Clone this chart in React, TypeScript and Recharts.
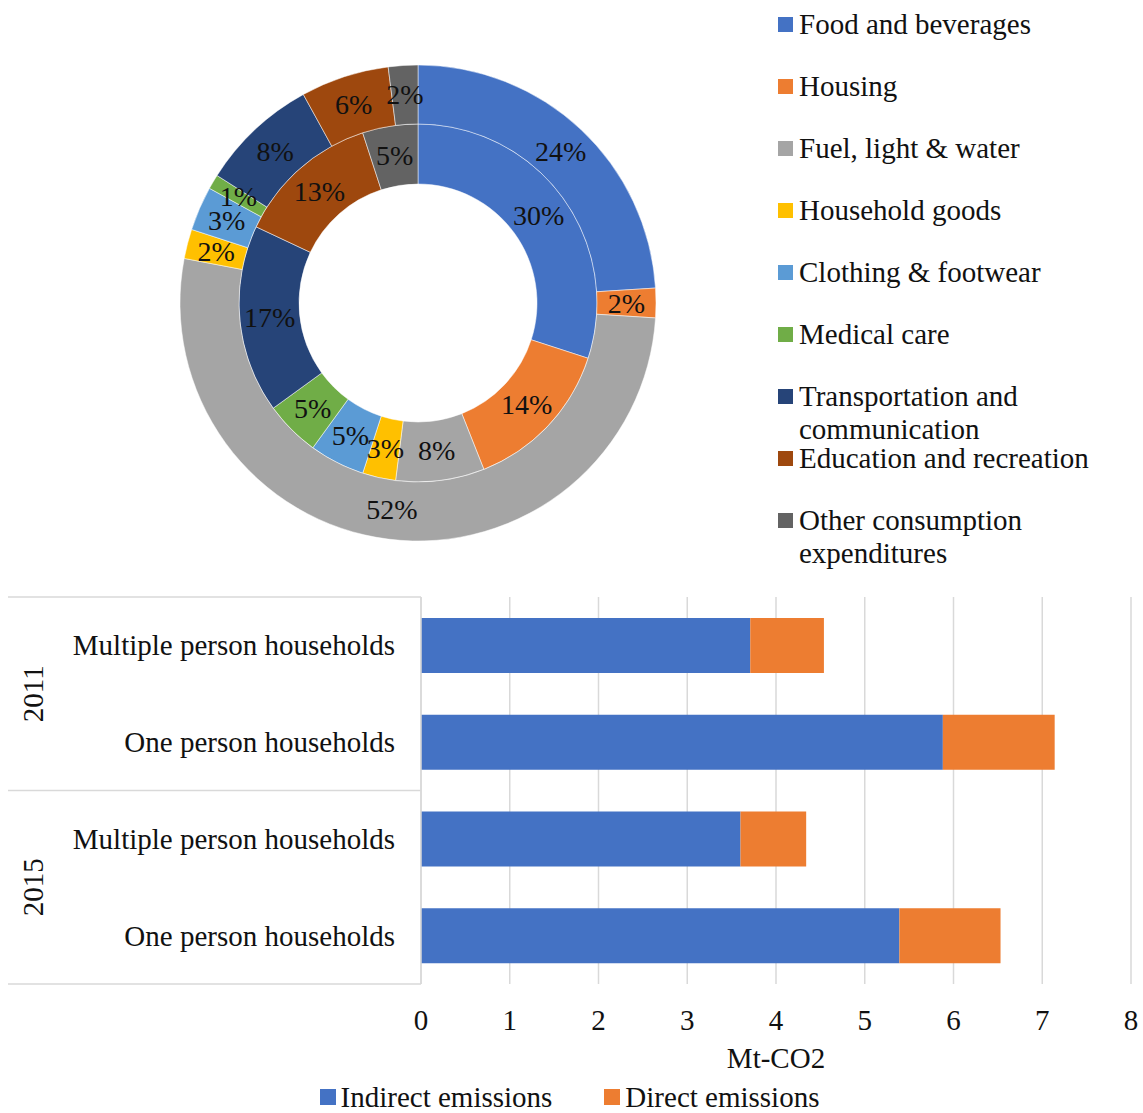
import React from 'react';
import {
  PieChart,
  Pie,
  Cell,
  Legend,
  BarChart,
  Bar,
  XAxis,
  YAxis,
  CartesianGrid,
} from 'recharts';

// ---- Consumption categories (shared by both rings) ----
const categories = [
  'Food and beverages',
  'Housing',
  'Fuel, light & water',
  'Household goods',
  'Clothing & footwear',
  'Medical care',
  'Transportation and communication',
  'Education and recreation',
  'Other consumption expenditures',
];
const categoryColors = [
  '#4472C4',
  '#ED7D31',
  '#A5A5A5',
  '#FFC000',
  '#5B9BD5',
  '#70AD47',
  '#264478',
  '#9E480E',
  '#636363',
];
// Shares in percent
const innerRingShares = [30, 14, 8, 3, 5, 5, 17, 13, 5];
const outerRingShares = [24, 2, 52, 2, 3, 1, 8, 6, 2];

// ---- Household emissions (Mt-CO2) ----
const households = [
  'Multiple person households',
  'One person households',
  'Multiple person households',
  'One person households',
];
const years = ['2011', '2011', '2015', '2015'];
const indirectEmissions = [3.71, 5.88, 3.6, 5.39];
const directEmissions = [0.83, 1.26, 0.74, 1.14];
const emissionTicks = [0, 1, 2, 3, 4, 5, 6, 7, 8];
const emissionSeries = [
  { key: 'indirect', name: 'Indirect emissions', color: '#4472C4' },
  { key: 'direct', name: 'Direct emissions', color: '#ED7D31' },
];

const SERIF = "'Liberation Serif', 'Times New Roman', Times, serif";
const TEXT = '#111';
const RULE = '#d9d9d9';
const RADIAN = Math.PI / 180;

const innerData = categories.map((name, i) => ({ name, value: innerRingShares[i] }));
const outerData = categories.map((name, i) => ({ name, value: outerRingShares[i] }));

const barRows = households.map((h, i) => ({
  key: `${years[i]} ${h}`,
  household: h,
  year: years[i],
  indirect: indirectEmissions[i],
  direct: directEmissions[i],
}));

// Bar chart frame
const BAR_MARGIN_LEFT = 8;
const CATEGORY_AXIS_WIDTH = 413;
const BOX_LEFT = BAR_MARGIN_LEFT;
const BOX_RIGHT = BAR_MARGIN_LEFT + CATEGORY_AXIS_WIDTH;

const renderSliceLabel = (p: any) => {
  const r = (p.innerRadius + p.outerRadius) / 2;
  const a = -p.midAngle * RADIAN;
  const x = p.cx + r * Math.cos(a);
  const y = p.cy + r * Math.sin(a);
  return (
    <text
      x={x}
      y={y}
      textAnchor="middle"
      dominantBaseline="central"
      fontSize={28}
      fontFamily={SERIF}
      fill={TEXT}
    >
      {`${Math.round(p.percent * 100)}%`}
    </text>
  );
};

function CategoryLegend() {
  return (
    <div
      style={{
        position: 'relative',
        width: 373,
        height: 580,
        fontFamily: SERIF,
        fontSize: 29,
        lineHeight: '33px',
        color: TEXT,
      }}
    >
      {categories.map((name, i) => (
        <div
          key={name}
          style={{
            position: 'absolute',
            left: 8,
            top: 8 + 62 * i,
            display: 'flex',
            alignItems: 'flex-start',
          }}
        >
          <span
            style={{
              display: 'block',
              width: 15,
              height: 15,
              background: categoryColors[i],
              marginTop: 9,
              marginRight: 6,
              flex: 'none',
            }}
          />
          <span style={{ display: 'block', width: 320 }}>{name}</span>
        </div>
      ))}
    </div>
  );
}

function EmissionLegend() {
  return (
    <div
      style={{
        height: 36,
        display: 'flex',
        justifyContent: 'center',
        alignItems: 'center',
        fontFamily: SERIF,
        fontSize: 29,
        lineHeight: '33px',
        color: TEXT,
        paddingTop: 4,
        boxSizing: 'border-box',
      }}
    >
      {emissionSeries.map((s, i) => (
        <div
          key={s.key}
          style={{ display: 'flex', alignItems: 'center', marginLeft: i === 0 ? 0 : 52 }}
        >
          <span
            style={{ display: 'block', width: 16, height: 16, background: s.color, marginRight: 5 }}
          />
          <span>{s.name}</span>
        </div>
      ))}
    </div>
  );
}

// Category axis tick: household label plus the year grouping frame
function HouseholdTick(props: any) {
  const { x, y, payload } = props;
  const i = barRows.findIndex((r) => r.key === payload.value);
  if (i < 0) return null;
  const half =
    payload.offset && payload.offset > 0
      ? payload.offset
      : props.height
      ? props.height / barRows.length / 2
      : 48;
  const row = barRows[i];
  const groupStart = barRows.findIndex((r) => r.year === row.year);
  let groupEnd = groupStart;
  while (groupEnd + 1 < barRows.length && barRows[groupEnd + 1].year === row.year) groupEnd++;
  const isFirst = i === groupStart;
  const isLastRow = i === barRows.length - 1;
  const groupCenter = y + ((groupStart + groupEnd) / 2 - i) * 2 * half;
  const yearX = BOX_LEFT + 25;
  return (
    <g>
      <text
        x={x}
        y={y}
        textAnchor="end"
        dominantBaseline="central"
        fontSize={29}
        fontFamily={SERIF}
        fill={TEXT}
      >
        {row.household}
      </text>
      {isFirst && (
        <>
          <line x1={BOX_LEFT} x2={BOX_RIGHT} y1={y - half} y2={y - half} stroke={RULE} strokeWidth={1.5} />
          <text
            x={yearX}
            y={groupCenter}
            transform={`rotate(-90 ${yearX} ${groupCenter})`}
            textAnchor="middle"
            dominantBaseline="central"
            fontSize={29}
            fontFamily={SERIF}
            fill={TEXT}
          >
            {row.year}
          </text>
        </>
      )}
      {isLastRow && (
        <line x1={BOX_LEFT} x2={BOX_RIGHT} y1={y + half} y2={y + half} stroke={RULE} strokeWidth={1.5} />
      )}
    </g>
  );
}

export default function App() {
  return (
    <div
      style={{
        position: 'absolute',
        left: 0,
        top: 0,
        width: 1143,
        height: 1113,
        background: '#fff',
        overflow: 'hidden',
      }}
    >
      <div style={{ position: 'absolute', left: 0, top: 0 }}>
        <PieChart width={1143} height={580} margin={{ top: 0, right: 0, bottom: 0, left: 0 }}>
          <Pie
            data={innerData}
            dataKey="value"
            nameKey="name"
            cx={418}
            cy={303}
            innerRadius={119}
            outerRadius={179}
            startAngle={90}
            endAngle={-270}
            stroke="#ffffff"
            strokeWidth={0.5}
            label={renderSliceLabel}
            labelLine={false}
            isAnimationActive={false}
          >
            {innerData.map((d, i) => (
              <Cell key={d.name} fill={categoryColors[i]} />
            ))}
          </Pie>
          <Pie
            data={outerData}
            dataKey="value"
            nameKey="name"
            cx={418}
            cy={303}
            innerRadius={179}
            outerRadius={238}
            startAngle={90}
            endAngle={-270}
            stroke="#ffffff"
            strokeWidth={0.5}
            label={renderSliceLabel}
            labelLine={false}
            isAnimationActive={false}
          >
            {outerData.map((d, i) => (
              <Cell key={d.name} fill={categoryColors[i]} />
            ))}
          </Pie>
          <Legend
            content={() => <CategoryLegend />}
            wrapperStyle={{ left: 770, top: 0, width: 373, height: 580 }}
          />
        </PieChart>
      </div>

      <div style={{ position: 'absolute', left: 0, top: 580 }}>
        <BarChart
          width={1143}
          height={533}
          data={barRows}
          layout="vertical"
          margin={{ top: 17, right: 12, bottom: 0, left: BAR_MARGIN_LEFT }}
        >
          <CartesianGrid horizontal={false} stroke={RULE} strokeWidth={1.5} />
          <XAxis
            type="number"
            domain={[0, 8]}
            ticks={emissionTicks}
            axisLine={false}
            tickLine={false}
            tickMargin={19}
            height={93}
            tick={{ fill: TEXT, fontSize: 29, fontFamily: SERIF }}
            label={{
              value: 'Mt-CO2',
              position: 'insideBottom',
              offset: 9,
              fill: TEXT,
              fontSize: 29,
              fontFamily: SERIF,
            }}
          />
          <YAxis
            type="category"
            dataKey="key"
            width={CATEGORY_AXIS_WIDTH}
            interval={0}
            axisLine={{ stroke: RULE, strokeWidth: 1.5 }}
            tickLine={false}
            tickMargin={20}
            tick={<HouseholdTick />}
          />
          {emissionSeries.map((s) => (
            <Bar
              key={s.key}
              dataKey={s.key}
              name={s.name}
              stackId="total"
              fill={s.color}
              barSize={55}
              isAnimationActive={false}
            />
          ))}
          <Legend verticalAlign="bottom" height={36} content={() => <EmissionLegend />} />
        </BarChart>
      </div>
    </div>
  );
}
